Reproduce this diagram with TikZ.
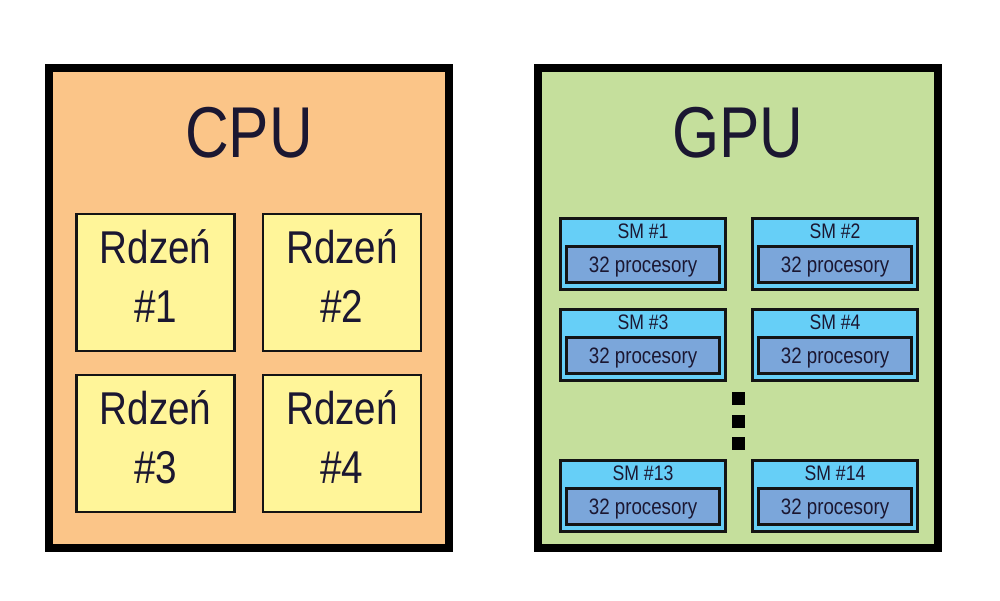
\documentclass[tikz,border=0pt]{standalone}
\usepackage{fontspec}
\setmainfont[FakeStretch=0.84]{Liberation Sans}
\definecolor{cpufill}{HTML}{FBC588}
\definecolor{corefill}{HTML}{FFF599}
\definecolor{gpufill}{HTML}{C5DF9C}
\definecolor{smfill}{HTML}{66CFF7}
\definecolor{procfill}{HTML}{7BA6DA}
\definecolor{txt}{HTML}{1B1731}
\definecolor{edge}{HTML}{141414}
\begin{document}
\begin{tikzpicture}[x=1pt,y=-1pt,
  chip/.style={draw=black,line width=8pt,minimum width=400pt,minimum height=480pt,inner sep=0pt},
  core/.style={draw=edge,fill=corefill,line width=2.5pt,minimum width=158pt,minimum height=137pt,inner sep=0pt},
  coretxt/.style={anchor=base,text=txt,inner sep=0pt,font=\fontsize{46}{46}\selectfont},
  smbox/.style={draw=edge,fill=smfill,line width=2.6pt,minimum width=165.4pt,minimum height=71.4pt,inner sep=0pt},
  smtxt/.style={anchor=base,text=txt,inner sep=0pt,font=\fontsize{21}{21}\selectfont},
  proc/.style={draw=edge,fill=procfill,line width=2.6pt,minimum width=153pt,minimum height=36.4pt,inner sep=0pt,
    text height=15pt,text depth=0pt,text=txt,font=\fontsize{22.3}{22.3}\selectfont},
  chiptxt/.style={anchor=base,text=txt,inner sep=0pt,font=\fontsize{72}{72}\selectfont},
  dot/.style={fill=black,minimum size=13pt,inner sep=0pt}]
\useasboundingbox (0,0) rectangle (1000,600);
% CPU
\node[chip,fill=cpufill] (cpu) at (249,308) {};
\node[chiptxt] (cputxt) at (249,157.5) {CPU};
\node[core] (r1) at (155.5,282.5) {};
\node[core] (r2) at (342,282.5) {};
\node[core] (r3) at (155.5,443.5) {};
\node[core] (r4) at (342,443.5) {};
\foreach \c/\n in {r1/1,r2/2,r3/3,r4/4}{
  \node[coretxt] (\c a) at ([yshift=19.5pt]\c.center) {Rdzeń};
  \node[coretxt] (\c b) at ([yshift=-39.5pt]\c.center) {\#\n};
}
% GPU
\node[chip,fill=gpufill] (gpu) at (738,308) {};
\node[chiptxt] (gputxt) at (738,157.5) {GPU};
\foreach \s/\x/\y/\n in {s1/643/254/1,s2/835/254/2,s3/643/345/3,s4/835/345/4,s13/643/496/13,s14/835/496/14}{
  \node[smbox] (\s) at (\x,\y) {};
  \node[smtxt] (\s t) at ([yshift=16pt]\s.center) {SM \#\n};
  \node[proc] (\s p) at ([yshift=-10.5pt]\s.center) {32 procesory};
}
\node[dot] (d1) at (738.5,398.5) {};
\node[dot] (d2) at (738.5,421) {};
\node[dot] (d3) at (738.5,443.5) {};
\end{tikzpicture}
\end{document}
